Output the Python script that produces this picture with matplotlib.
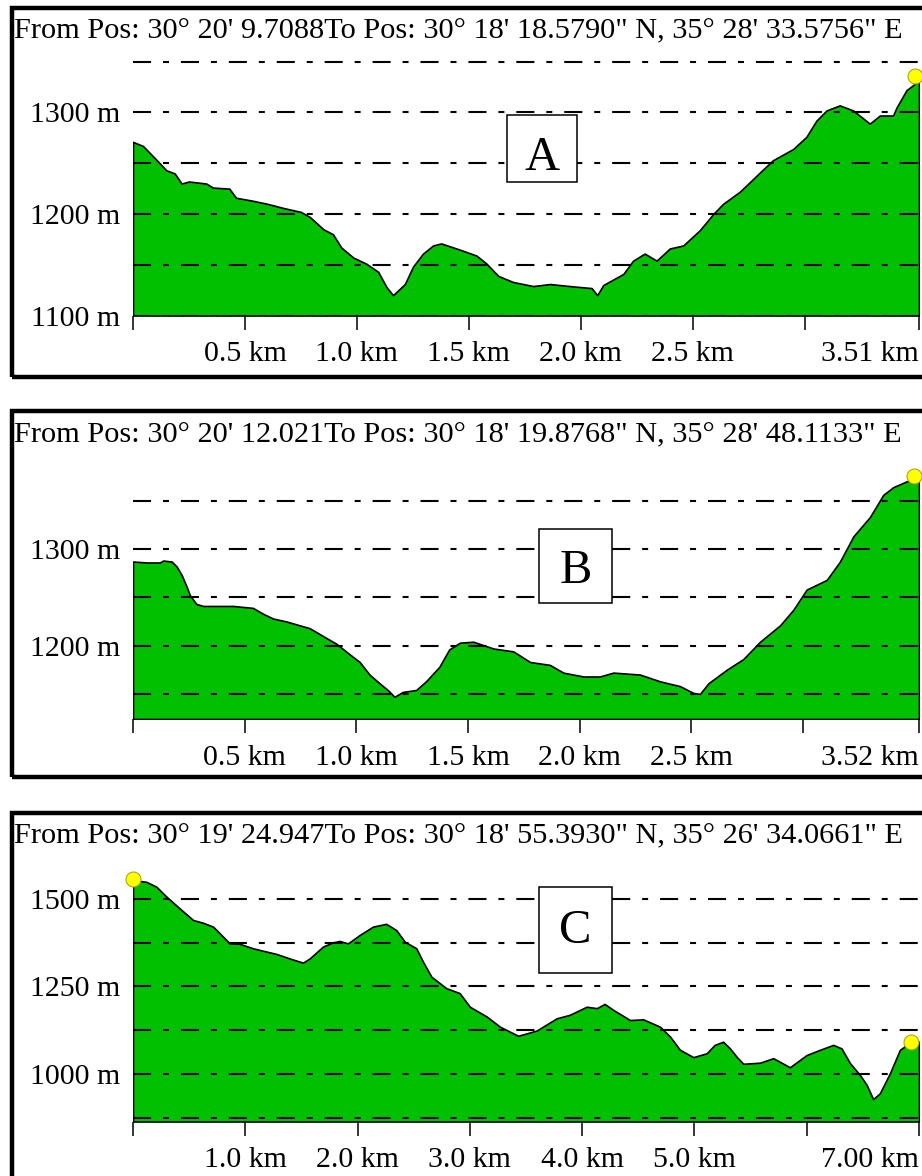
import matplotlib
matplotlib.use("Agg")
import matplotlib.pyplot as plt
from matplotlib.patches import Rectangle

plt.rcParams['font.family'] = ['Liberation Serif', 'DejaVu Serif']
plt.rcParams['lines.scale_dashes'] = False

W, H = 922, 1176

# --- profile A ---
A_km = [0, 0.045, 0.106, 0.149, 0.186, 0.217, 0.25, 0.327, 0.357, 0.43, 0.46, 0.536,
        0.6, 0.67, 0.75, 0.79, 0.85, 0.893, 0.93, 0.984, 1.042, 1.095, 1.132, 1.161,
        1.214, 1.25, 1.295, 1.34, 1.376, 1.458, 1.534, 1.579, 1.631, 1.697, 1.787,
        1.862, 1.95, 2.048, 2.073, 2.1, 2.19, 2.233, 2.285, 2.338, 2.397, 2.457, 2.531,
        2.591, 2.635, 2.71, 2.8, 2.858, 2.948, 3.007, 3.052, 3.097, 3.156, 3.216, 3.29,
        3.335, 3.394, 3.41, 3.454, 3.49, 3.51]
A_elev = [1271, 1267, 1253, 1243, 1240, 1230, 1232, 1230, 1226, 1225, 1216, 1213,
          1210, 1206, 1202, 1197, 1185, 1180, 1167, 1157, 1151, 1143, 1128, 1120,
          1131, 1148, 1161, 1169, 1171, 1165, 1159, 1151, 1139, 1133, 1129,
          1131, 1129, 1127, 1120, 1130, 1141, 1154, 1161, 1154, 1166, 1169, 1184,
          1200, 1210, 1222, 1241, 1253, 1264, 1276, 1292, 1302, 1307, 1302, 1289,
          1297, 1297, 1305, 1322, 1328, 1332]
A_grid = [1100, 1150, 1200, 1250, 1300, 1350]
A_ylabels = [1100, 1200, 1300]
A_xticks = [0, 0.5, 1.0, 1.5, 2.0, 2.5, 3.0, 3.51]
A_xlabels = ['', '0.5 km', '1.0 km', '1.5 km', '2.0 km', '2.5 km', '', '3.51 km']
A_dots_km = [3.49]
A_dots_elev = [1336]
A_title = "From Pos: 30° 20' 9.7088To Pos: 30° 18' 18.5790\" N, 35° 28' 33.5756\" E"

# --- profile B ---
B_km = [0, 0.061, 0.12, 0.135, 0.173, 0.195, 0.218, 0.24, 0.255, 0.284, 0.314, 0.448,
        0.537, 0.582, 0.627, 0.686, 0.791, 0.85, 0.91, 0.97, 1.015, 1.059, 1.104,
        1.141, 1.171, 1.208, 1.268, 1.312, 1.372, 1.416, 1.464, 1.524, 1.613, 1.703,
        1.778, 1.867, 1.927, 2.017, 2.091, 2.151, 2.27, 2.36, 2.45, 2.509, 2.539,
        2.577, 2.659, 2.733, 2.808, 2.898, 2.957, 3.017, 3.107, 3.166, 3.226, 3.3,
        3.36, 3.405, 3.465, 3.52]
B_elev = [1287, 1286, 1286, 1288, 1287, 1282, 1273, 1261, 1252, 1243, 1241, 1241,
          1239, 1233, 1228, 1225, 1218, 1210, 1202, 1191, 1183, 1170, 1161,
          1154, 1147, 1152, 1154, 1163, 1178, 1196, 1203, 1204, 1197, 1194,
          1183, 1180, 1172, 1168, 1168, 1172, 1170, 1163, 1158, 1151, 1150,
          1161, 1175, 1186, 1204, 1221, 1237, 1258, 1268, 1287, 1313, 1333,
          1356, 1364, 1370, 1373]
B_grid = [1150, 1200, 1250, 1300, 1350]
B_ylabels = [1200, 1300]
B_xticks = [0, 0.5, 1.0, 1.5, 2.0, 2.5, 3.0, 3.52]
B_xlabels = ['', '0.5 km', '1.0 km', '1.5 km', '2.0 km', '2.5 km', '', '3.52 km']
B_dots_km = [3.497]
B_dots_elev = [1375]
B_title = "From Pos: 30° 20' 12.021To Pos: 30° 18' 19.8768\" N, 35° 28' 48.1133\" E"

# --- profile C ---
C_km = [0, 0.12, 0.208, 0.297, 0.416, 0.535, 0.624, 0.713, 0.772, 0.861, 0.95, 1.069,
        1.158, 1.277, 1.395, 1.514, 1.573, 1.692, 1.78, 1.84, 1.914, 2.018, 2.137,
        2.255, 2.345, 2.42, 2.523, 2.582, 2.657, 2.79, 2.909, 3.0, 3.15, 3.268, 3.43,
        3.595, 3.773, 3.89, 4.04, 4.13, 4.2, 4.277, 4.426, 4.544, 4.693, 4.782, 4.871,
        4.99, 5.109, 5.18, 5.255, 5.316, 5.376, 5.435, 5.583, 5.702, 5.85, 5.999,
        6.118, 6.236, 6.31, 6.385, 6.474, 6.533, 6.592, 6.652, 6.741, 6.83, 6.934, 7.0]
C_elev = [1554, 1549, 1535, 1507, 1473, 1440, 1432, 1421, 1402, 1373, 1372, 1359,
          1352, 1343, 1330, 1318, 1330, 1364, 1376, 1380, 1373, 1397, 1421,
          1429, 1411, 1378, 1359, 1321, 1278, 1245, 1231, 1192, 1164, 1135, 1109,
          1124, 1159, 1169, 1192, 1188, 1200, 1183, 1154, 1156, 1135, 1107, 1069,
          1048, 1059, 1083, 1092, 1073, 1049, 1029, 1032, 1045, 1019, 1054,
          1069, 1083, 1073, 1031, 997, 969, 928, 945, 1002, 1069, 1092, 1092]
C_grid = [875, 1000, 1125, 1250, 1375, 1500]
C_ylabels = [1000, 1250, 1500]
C_xticks = [0, 1, 2, 3, 4, 5, 6, 7]
C_xlabels = ['', '1.0 km', '2.0 km', '3.0 km', '4.0 km', '5.0 km', '', '7.00 km']
C_dots_km = [0.0, 6.93]
C_dots_elev = [1557, 1092]
C_title = "From Pos: 30° 19' 24.947To Pos: 30° 18' 55.3930\" N, 35° 26' 34.0661\" E"

GREEN = '#00c000'
FS = 21.5


def fig_box(left, top, right, bottom):
    """pixel box -> figure fraction [x, y, w, h]"""
    return [left / W, 1 - bottom / H, (right - left) / W, (bottom - top) / H]


def draw_profile(fig, frame, axbox, ylim, km, elev, grid, ylabels, xticks, xlabels,
                 dots_km, dots_elev, title, title_y, letter, letter_box, letter_y):
    # outer frame (runs off the right side of the picture)
    ft, fb = frame
    fig.add_artist(Rectangle((12 / W, 1 - fb / H), 1.2, (fb - ft) / H,
                             transform=fig.transFigure, fill=False,
                             edgecolor='black', lw=3.2, clip_on=False, zorder=20))
    fig.text(14 / W, 1 - title_y / H, title, ha='left', va='baseline', fontsize=21.9)

    ax = fig.add_axes(fig_box(*axbox))
    ax.patch.set_visible(False)
    ax.set_xlim(0, km[-1])
    ax.set_ylim(*ylim)
    ax.fill_between(km, elev, ylim[0], facecolor=GREEN, edgecolor='black',
                    lw=1.2, zorder=2)
    for g in grid:
        ax.axhline(g, color='black', lw=1.5, dashes=(13, 8.6, 4.3, 8.6), zorder=3)
    ax.plot(dots_km, dots_elev, 'o', ms=10.8, mfc='#ffff00', mec='#a89a00',
            mew=0.7, clip_on=False, zorder=6)

    for s in ax.spines.values():
        s.set_visible(False)
    ax.set_yticks(ylabels, [f'{v} m' for v in ylabels])
    ax.tick_params(axis='y', length=0, pad=9.4, labelsize=FS)
    ax.set_xticks(xticks, xlabels)
    ax.tick_params(axis='x', length=10, width=1.1, direction='out', pad=8.6,
                   labelsize=FS)
    ax.get_xticklabels()[-1].set_ha('right')

    l, t, r, b = letter_box
    fig.add_artist(Rectangle((l / W, 1 - b / H), (r - l) / W, (b - t) / H,
                             transform=fig.transFigure, facecolor='white',
                             edgecolor='black', lw=1.1, zorder=15))
    fig.text((l + r) / 2 / W, 1 - letter_y / H, letter, ha='center', va='baseline',
             fontsize=35, zorder=16)
    return ax


fig = plt.figure(figsize=(W / 100, H / 100), dpi=100)

draw_profile(fig, (7.5, 376.5), (133, 46.5, 919, 315.5), (1100, 1365),
             A_km, A_elev, A_grid, A_ylabels, A_xticks, A_xlabels,
             A_dots_km, A_dots_elev, A_title, 38, 'A', (507, 115, 577, 182), 170)
draw_profile(fig, (411.5, 777), (133, 462, 919, 719), (1124, 1390),
             B_km, B_elev, B_grid, B_ylabels, B_xticks, B_xlabels,
             B_dots_km, B_dots_elev, B_title, 442, 'B', (539, 529, 612, 603), 583)
draw_profile(fig, (813, 1300), (133, 860.5, 919, 1121.5), (864, 1610),
             C_km, C_elev, C_grid, C_ylabels, C_xticks, C_xlabels,
             C_dots_km, C_dots_elev, C_title, 843, 'C', (539, 887, 612, 973), 943)

fig.savefig('out.png', dpi=100)
